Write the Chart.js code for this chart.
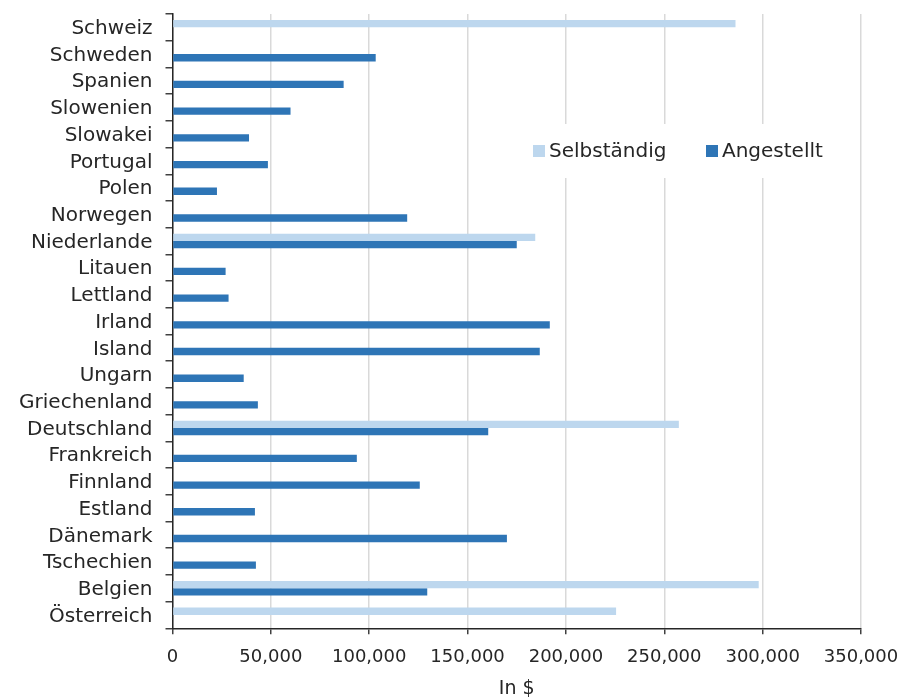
<!DOCTYPE html>
<html>
<head>
<meta charset="utf-8">
<script src="https://cdn.jsdelivr.net/npm/chart.js@4/dist/chart.umd.min.js"></script>
<style>
  html, body { margin: 0; padding: 0; background: #ffffff; }
  #wrap { width: 903px; height: 700px; }
</style>
</head>
<body>
<div id="wrap"><canvas id="c" width="903" height="700"></canvas></div>
<script>
// Länder, von oben nach unten
const laender = [
  'Schweiz', 'Schweden', 'Spanien', 'Slowenien', 'Slowakei', 'Portugal', 'Polen',
  'Norwegen', 'Niederlande', 'Litauen', 'Lettland', 'Irland', 'Island', 'Ungarn',
  'Griechenland', 'Deutschland', 'Frankreich', 'Finnland', 'Estland', 'Dänemark',
  'Tschechien', 'Belgien', 'Österreich'
];

// Einkommen Selbständige (in $)
const selbstaendig = [
  286200, null, null, null, null, null, null,
  null, 184400, null, null, null, null, null,
  null, 257400, null, null, null, null,
  null, 298000, 225500
];

// Einkommen Angestellte (in $)
const angestellt = [
  null, 103300, 87000, 60000, 38900, 48500, 22600,
  119300, 175000, 27000, 28500, 191800, 186700, 36200,
  43400, 160500, 93700, 125700, 41900, 170000,
  42400, 129500, null
];

const xTicks = [0, 50000, 100000, 150000, 200000, 250000, 300000, 350000];
const reiheNamen = ['Selbständig', 'Angestellt'];
const farben = ['#BDD7EE', '#2E75B6'];

const FONT = "'DejaVu Sans', sans-serif";
const TEXT = '#262626';

// Legende als weißer Kasten innerhalb der Zeichenfläche
const innenLegende = {
  id: 'innenLegende',
  afterDatasetsDraw(chart) {
    const ctx = chart.ctx;
    ctx.save();
    ctx.fillStyle = '#ffffff';
    ctx.fillRect(522, 124, 318, 54);
    ctx.font = '20px ' + FONT;
    ctx.textBaseline = 'middle';
    ctx.textAlign = 'left';
    const pos = [533, 706];
    chart.data.datasets.forEach((ds, i) => {
      ctx.fillStyle = ds.backgroundColor;
      ctx.fillRect(pos[i], 145, 12, 12);
      ctx.fillStyle = TEXT;
      ctx.fillText(ds.label, pos[i] + 16, 152);
    });
    ctx.restore();
  }
};

new Chart(document.getElementById('c'), {
  type: 'bar',
  data: {
    labels: laender,
    datasets: [
      { label: reiheNamen[0], data: selbstaendig, backgroundColor: farben[0] },
      { label: reiheNamen[1], data: angestellt, backgroundColor: farben[1] }
    ]
  },
  options: {
    indexAxis: 'y',
    responsive: false,
    animation: false,
    devicePixelRatio: 1,
    layout: { padding: { left: 0, right: 42, top: 14, bottom: 0 } },
    datasets: { bar: { categoryPercentage: 0.55, barPercentage: 1.0 } },
    plugins: {
      legend: { display: false },
      tooltip: { enabled: false }
    },
    scales: {
      x: {
        type: 'linear',
        min: 0,
        max: 350000,
        afterBuildTicks(scale) { scale.ticks = xTicks.map(v => ({ value: v })); },
        afterFit(scale) {
          scale.height = 71.7;
          scale.paddingLeft = 0;
          scale.paddingRight = 0;
        },
        grid: {
          color: '#D9D9D9',
          lineWidth: 1.5,
          tickColor: '#404040',
          tickLength: 6,
          drawTicks: true
        },
        border: { color: '#262626', width: 1.5 },
        ticks: {
          color: TEXT,
          padding: 12,
          font: { family: FONT, size: 18 },
          callback: v => v.toLocaleString('en-US')
        },
        title: {
          display: true,
          text: 'In $',
          color: TEXT,
          padding: { top: 0, bottom: 0 },
          font: { family: FONT, size: 19 }
        }
      },
      y: {
        type: 'category',
        afterFit(scale) {
          scale.width = 172.5;
          scale.paddingTop = 0;
          scale.paddingBottom = 0;
        },
        grid: {
          offset: true,
          drawOnChartArea: false,
          drawTicks: true,
          tickLength: 7,
          tickColor: '#404040',
          lineWidth: 1.5
        },
        border: { color: '#262626', width: 1.5 },
        ticks: {
          color: TEXT,
          padding: 13,
          labelOffset: 1.5,
          autoSkip: false,
          font: { family: FONT, size: 20 }
        }
      }
    }
  },
  plugins: [innenLegende]
});
</script>
</body>
</html>
